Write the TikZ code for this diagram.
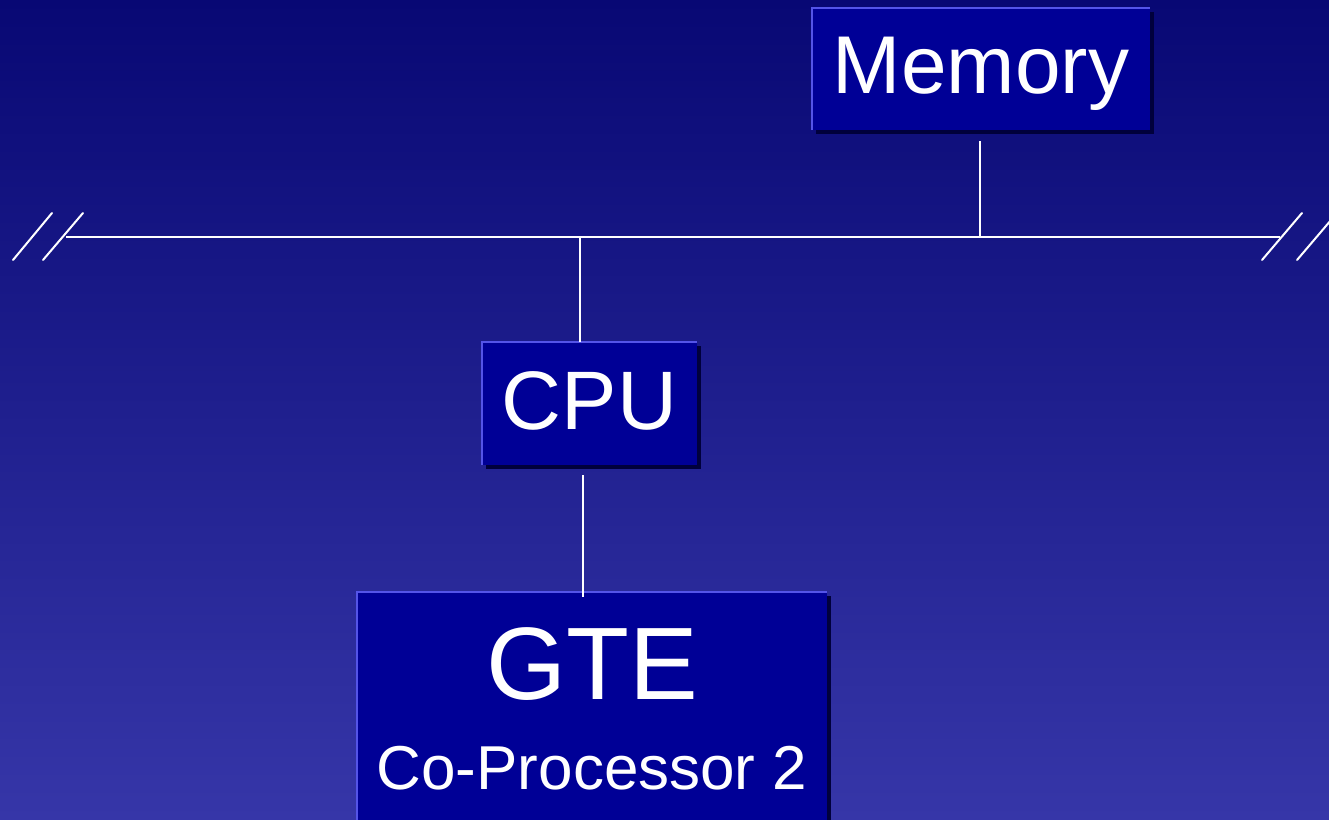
\documentclass[tikz,border=0pt]{standalone}
\usepackage{fontspec}
\setmainfont{Liberation Sans}
\usetikzlibrary{shadows}
\definecolor{bgtop}{RGB}{8,8,116}
\definecolor{bgbot}{RGB}{54,54,168}
\definecolor{boxfill}{RGB}{0,0,150}
\definecolor{boxedge}{RGB}{84,84,232}
\definecolor{boxshade}{RGB}{0,0,60}
\begin{document}
\begin{tikzpicture}[x=1pt,y=-1pt,
  unit/.style={fill=boxfill, draw=none, text=white, inner sep=0pt,
    drop shadow={shadow xshift=4pt, shadow yshift=-4pt, fill=boxshade, opacity=1}},
  litedge/.style={draw=boxedge, line width=2.5pt},
  wire/.style={draw=white, line width=2pt},
  brk/.style={draw=white, line width=2pt, line cap=round}]
  % background
  \shade[top color=bgtop, bottom color=bgbot] (0,0) rectangle (1329,819);
  \useasboundingbox (0,0) rectangle (1329,819);

  % units
  \node[unit, minimum width=338pt, minimum height=122pt,
        font=\fontsize{82}{82}\selectfont, text height=48pt, text depth=0pt]
        (mem) at (981,69) {Memory};
  \node[unit, minimum width=215pt, minimum height=123pt,
        font=\fontsize{83}{83}\selectfont, text height=51pt, text depth=0pt]
        (cpu) at (589.5,403.5) {CPU};
  \node[unit, minimum width=470pt, minimum height=233pt, align=center,
        font=\fontsize{103}{90}\selectfont]
        (gte) at (592,708.5) {GTE\\{\fontsize{62}{91}\selectfont Co-Processor 2}};
  \foreach \n in {mem,cpu,gte}
    \draw[litedge] (\n.south west) -- (\n.north west) -- (\n.north east);

  % system bus
  \coordinate (busL) at (66,237);
  \coordinate (busR) at (1280,237);
  \coordinate (tapM) at (980,237);
  \coordinate (tapC) at (580,237);
  \draw[wire] (busL) -- (busR);
  \draw[wire] ([yshift=-11pt]mem.south -| tapM) -- (tapM);
  \draw[wire] (tapC) -- (tapC |- cpu.north);
  \draw[wire] ([yshift=-10pt]cpu.south -| 583,0) -- (583,597);

  % break marks at both bus ends
  \coordinate (l1a) at (13,260); \coordinate (l1b) at (52,213);
  \coordinate (l2a) at (43,260); \coordinate (l2b) at (83,213);
  \coordinate (r1a) at (1262,260); \coordinate (r1b) at (1302,213);
  \coordinate (r2a) at (1297,260); \coordinate (r2b) at (1337,213);
  \draw[brk] (l1a) -- (l1b);
  \draw[brk] (l2a) -- (l2b);
  \draw[brk] (r1a) -- (r1b);
  \draw[brk] (r2a) -- (r2b);
\end{tikzpicture}
\end{document}
